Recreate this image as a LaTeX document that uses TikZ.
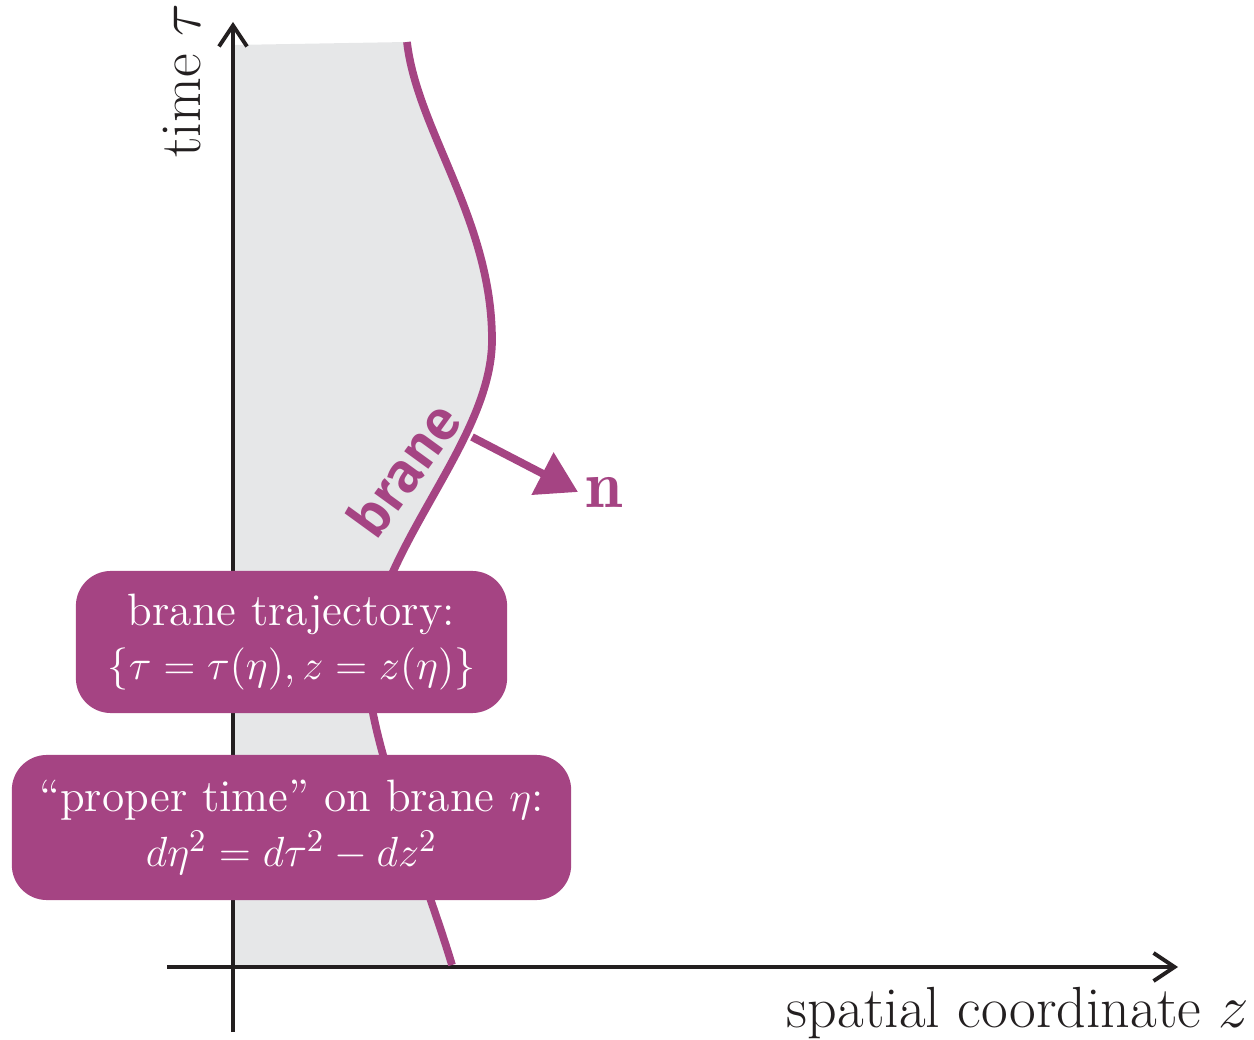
\documentclass[tikz,border=0pt]{standalone}
\usepackage{amsmath, amssymb}
\usepackage{fontspec}
\newfontfamily\branefont{Fira Sans SemiBold}
\usepackage{tikz}
\usetikzlibrary{arrows.meta, positioning}
\definecolor{branepurple}{RGB}{165,68,131}
\definecolor{bulkgray}{RGB}{230,231,232}
\definecolor{axisblack}{RGB}{35,31,32}

\begin{document}
\begin{tikzpicture}[x=0.01cm, y=-0.01cm,
  axis/.style={draw=axisblack, line width=1.1pt, -{Straight Barb[length=2.1mm, width=2.8mm]}},
  brane/.style={draw=branepurple, line width=2.2pt},
  normal/.style={draw=branepurple, line width=2.2pt, -{Triangle[length=4mm, width=4.6mm]}},
  infobox/.style={fill=branepurple, text=white, rounded corners=0.35cm, align=center,
    inner sep=0pt, font=\fontsize{12.9}{15.5}\selectfont},
  axislabel/.style={text=axisblack, font=\fontsize{16.5}{20}\selectfont}]
  \useasboundingbox (0,0) rectangle (1254,1040);
  \fill[bulkgray] (233,967) -- (233,45) -- (407,42)
    .. controls (417,130) and (492,220) .. (492,340)
    .. controls (492,445) and (368,555) .. (368,670)
    .. controls (368,740) and (425,875) .. (452,965)
    -- (452,967) -- cycle;
  \coordinate (tbottom) at (233,1032);
  \coordinate (ttop) at (233,22);
  \coordinate (zleft) at (167,967);
  \coordinate (zright) at (1178,967);
  \draw[axis] (tbottom) -- (ttop);
  \draw[axis] (zleft) -- (zright);
  \draw[brane] (407,42)
    .. controls (417,130) and (492,220) .. (492,340)
    .. controls (492,445) and (368,555) .. (368,670)
    .. controls (368,740) and (425,875) .. (452,965);
  \coordinate (foot) at (472,437);
  \coordinate (tip) at (578,492);
  \draw[normal] (foot) -- (tip);
  \node[text=branepurple, font=\fontsize{19}{22}\selectfont, right=-0.5mm of tip] (nlabel) {$\mathbf{n}$};
  \node[text=branepurple, font=\branefont\fontsize{16}{19}\selectfont, rotate=54] (branelabel) at (403,469) {brane};
  \node[infobox, minimum width=4.31cm, minimum height=1.42cm] (trajbox) at (291.5,642)
    {brane trajectory:\\ $\{\tau=\tau(\eta), z=z(\eta)\}$};
  \node[infobox, minimum width=5.59cm, minimum height=1.45cm] (timebox) at (291.5,827.5)
    {“proper time” on brane $\eta$:\\ $d\eta^2=d\tau^2-dz^2$};
  \node[axislabel, rotate=90] (tlabel) at (182,81) {time $\tau$};
  \node[axislabel] (zlabel) at (1018,1013) {spatial coordinate $z$};
\end{tikzpicture}
\end{document}
